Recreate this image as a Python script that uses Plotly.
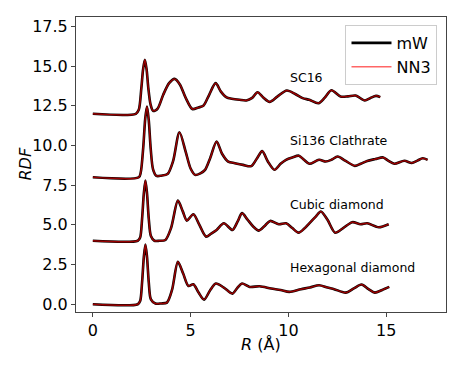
import plotly.graph_objects as go

# ---- data ----
structures = ["SC16", "Si136 Clathrate", "Cubic diamond", "Hexagonal diamond"]
offsets = [12, 8, 4, 0]

r_sc16 = [0, 2.2, 2.35, 2.48, 2.57, 2.66, 2.75, 2.84, 2.95, 3.08, 3.3, 3.6, 3.9, 4.18, 4.45, 4.75,
          5.09, 5.4, 5.65, 5.95, 6.28, 6.55, 6.84, 7.1, 7.5, 7.85, 8.15, 8.42, 8.7, 9.04, 9.45,
          9.92, 10.35, 10.73, 11.07, 11.54, 11.85, 12.2, 12.67, 13.05, 13.44, 13.91, 14.2, 14.48, 14.7]
g_sc16 = [0, 0, 0.25, 1.6, 2.8, 3.4, 2.8, 1.6, 0.6, 0.19, 0.3, 1.2, 1.93, 2.2, 1.85, 1.0,
          0.3, 0.4, 0.5, 1.2, 1.93, 1.4, 1.03, 0.95, 0.88, 0.84, 1.0, 1.36, 1.05, 0.75, 1.1,
          1.47, 1.25, 0.99, 0.88, 0.67, 1.0, 1.48, 1.09, 1.1, 1.15, 0.84, 1.0, 1.13, 1.05]

r_si136 = [0, 2.35, 2.45, 2.58, 2.68, 2.77, 2.86, 2.96, 3.08, 3.25, 3.5, 3.82, 4.1, 4.43, 4.75,
           5.0, 5.23, 5.5, 5.74, 6.0, 6.33, 6.6, 6.92, 7.26, 7.68, 8.1, 8.4, 8.66, 8.95, 9.29,
           9.6, 9.88, 10.2, 10.54, 10.8, 11.07, 11.57, 11.91, 12.2, 12.52, 12.9, 13.4, 13.7,
           14.03, 14.45, 14.85, 15.1, 15.42, 15.93, 16.31, 16.6, 16.87, 17.12]
g_si136 = [0, 0, 0.3, 1.9, 3.7, 4.46, 3.6, 1.8, 0.5, 0.09, 0.1, 0.2, 1.0, 2.84, 1.6,
           0.55, 0.15, 0.25, 0.47, 1.2, 2.25, 1.5, 0.99, 0.89, 0.78, 0.7, 1.2, 1.65, 1.0, 0.47,
           0.85, 1.1, 1.25, 1.36, 1.1, 0.85, 1.1, 0.99, 1.1, 1.31, 1.05, 0.72, 0.85,
           1.03, 1.15, 1.25, 1.05, 0.85, 1.04, 0.9, 1.05, 1.2, 1.1]

r_cubic = [0, 2.3, 2.42, 2.52, 2.61, 2.69, 2.77, 2.86, 2.97, 3.15, 3.4, 3.71, 4.0, 4.35, 4.6,
           4.81, 5.14, 5.45, 5.79, 6.05, 6.33, 6.7, 7.14, 7.4, 7.63, 7.9, 8.2, 8.49, 8.8, 9.07,
           9.51, 9.88, 10.2, 10.52, 10.8, 11.07, 11.4, 11.66, 12.0, 12.39, 12.8, 13.27, 13.69,
           14.03, 14.62, 15.13]
g_cubic = [0, 0, 0.2, 1.4, 3.0, 3.8, 3.0, 1.4, 0.3, 0.0, 0.0, 0.05, 0.8, 2.53, 1.85,
           1.27, 1.67, 1.0, 0.26, 0.45, 0.68, 1.1, 0.68, 1.2, 1.74, 1.35, 0.9, 0.64, 0.95, 1.25,
           1.04, 1.1, 0.8, 0.51, 0.75, 1.1, 1.52, 1.84, 1.32, 0.51, 0.8, 1.17, 1.04,
           1.1, 0.85, 1.04]

r_hex = [0, 2.3, 2.42, 2.52, 2.61, 2.69, 2.77, 2.86, 2.97, 3.2, 3.5, 3.79, 4.05, 4.35, 4.62,
         4.89, 5.14, 5.4, 5.69, 6.0, 6.29, 6.7, 7.14, 7.4, 7.63, 8.02, 8.53, 9.12, 9.6, 10.05,
         10.64, 11.1, 11.57, 12.0, 12.34, 12.93, 13.35, 13.74, 14.1, 14.42, 14.8, 15.16]
g_hex = [0, 0, 0.2, 1.4, 3.0, 3.76, 3.0, 1.4, 0.3, 0.04, 0.05, 0.1, 0.9, 2.67, 1.93,
         1.15, 1.26, 0.75, 0.29, 0.88, 1.3, 1.05, 0.67, 1.05, 1.3, 1.09, 1.13, 0.99, 0.9, 0.78,
         0.95, 1.05, 1.2, 1.05, 0.95, 0.73, 1.0, 1.24, 0.95, 0.73, 0.9, 1.09]

# NN3 predictions coincide with mW within the picture's resolution
r_all = [r_sc16, r_si136, r_cubic, r_hex]
g_mw = [g_sc16, g_si136, g_cubic, g_hex]
g_nn3 = [list(g) for g in g_mw]

x_ticks = [0, 5, 10, 15]
y_ticks = [0.0, 2.5, 5.0, 7.5, 10.0, 12.5, 15.0, 17.5]

FONT = "DejaVu Sans"
fig = go.Figure()

for i, (r, g, off) in enumerate(zip(r_all, g_mw, offsets)):
    fig.add_trace(go.Scatter(
        x=r, y=[v + off for v in g], mode="lines", name="mW",
        legendgroup="mW", showlegend=(i == 0),
        line=dict(color="black", width=2.6, shape="spline", smoothing=0.8)))
for i, (r, g, off) in enumerate(zip(r_all, g_nn3, offsets)):
    fig.add_trace(go.Scatter(
        x=r, y=[v + off for v in g], mode="lines", name="NN3",
        legendgroup="NN3", showlegend=(i == 0),
        line=dict(color="rgba(255,0,0,0.6)", width=1.5, shape="spline", smoothing=0.8)))

for name, off in zip(structures, offsets):
    fig.add_annotation(x=10, y=off + 2.3, text=name, showarrow=False,
                       xanchor="left", yanchor="middle",
                       font=dict(family=FONT, size=12.5, color="black"))

# axis titles placed as paper-anchored text
fig.add_annotation(x=0.5, y=-0.1085, xref="paper", yref="paper", text="<i>R</i> (Å)",
                   showarrow=False, xanchor="center", yanchor="middle",
                   font=dict(family=FONT, size=16, color="black"))
fig.add_annotation(x=-0.1378, y=0.5, xref="paper", yref="paper", text="<i>RDF</i>",
                   showarrow=False, xanchor="center", yanchor="middle", textangle=-90,
                   font=dict(family=FONT, size=16, color="black"))

axis_common = dict(showline=True, linecolor="#444", linewidth=1, mirror=True,
                   ticks="outside", ticklen=4, tickcolor="#444", showgrid=False,
                   zeroline=False, tickfont=dict(family=FONT, size=16, color="black"))

# page body has an 8px margin, so the figure is sized/placed to compensate
fig.update_layout(
    width=455, height=363,
    margin=dict(l=68, r=17, t=9, b=59),
    plot_bgcolor="white", paper_bgcolor="white",
    xaxis=dict(range=[-0.86, 18.06], tickvals=x_ticks,
               ticktext=[str(t) for t in x_ticks],
               **axis_common),
    yaxis=dict(range=[-0.49, 18.1], tickvals=y_ticks,
               ticktext=[f"{t:.1f}" for t in y_ticks],
               **axis_common),
    legend=dict(x=0.977, y=0.973, xanchor="right", yanchor="top",
                bgcolor="white", bordercolor="#cccccc", borderwidth=1,
                font=dict(family=FONT, size=16, color="black"),
                itemwidth=40, tracegroupgap=0),
    showlegend=True,
)

fig.write_html("out.html")
